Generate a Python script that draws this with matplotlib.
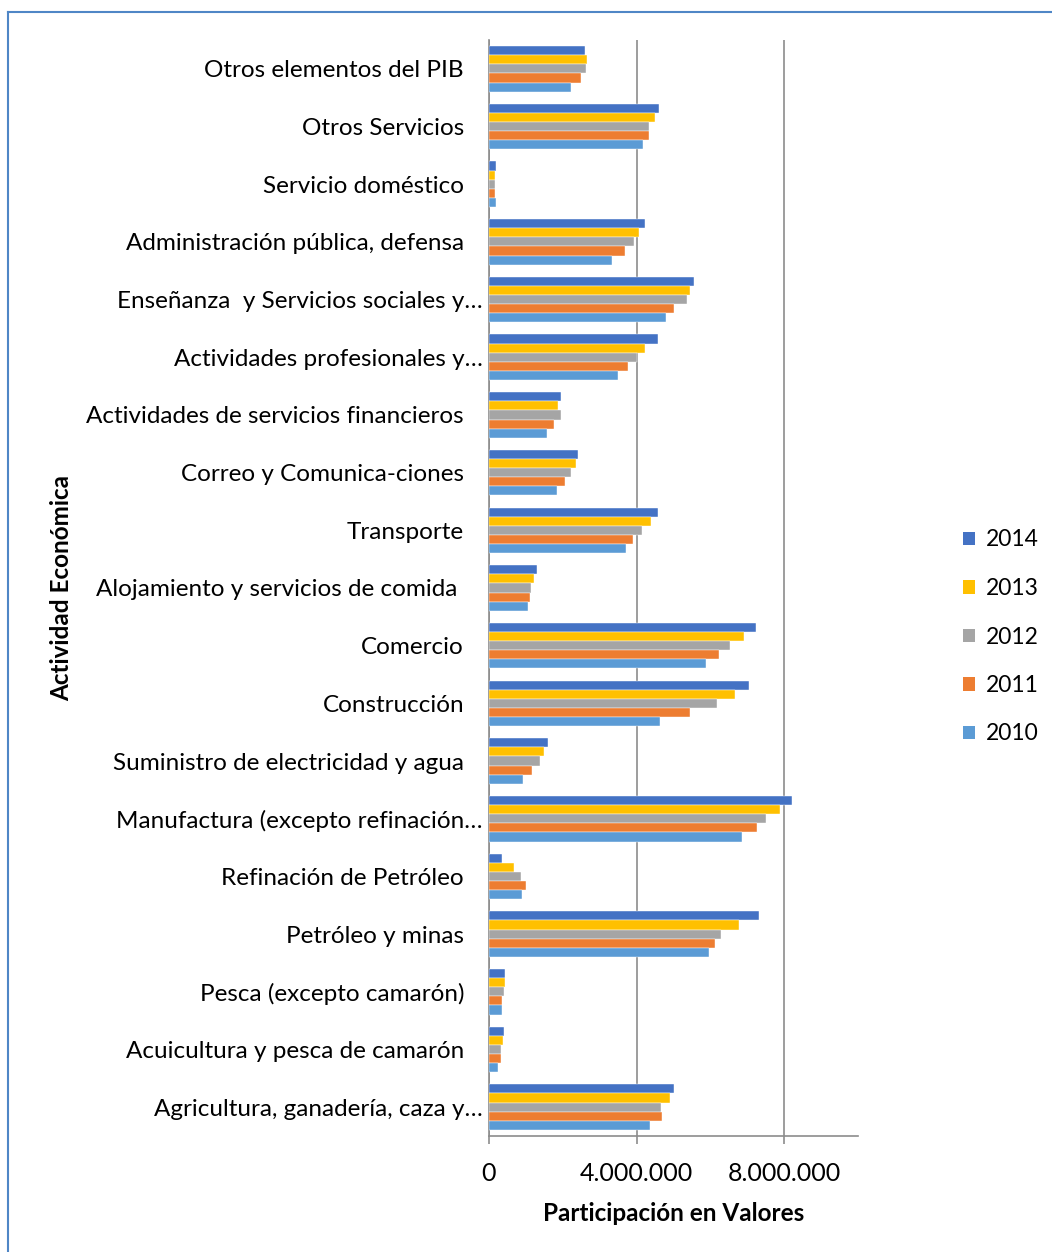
import matplotlib
matplotlib.use("Agg")
import matplotlib.pyplot as plt
import matplotlib.transforms as mtransforms
from matplotlib.lines import Line2D
from matplotlib.patches import Patch
import numpy as np

plt.rcParams['font.family'] = ['Lato', 'DejaVu Sans']

# Categories listed bottom to top (as drawn on the y axis)
categories = [
    "Agricultura, ganadería, caza y…",
    "Acuicultura y pesca de camarón",
    "Pesca (excepto camarón)",
    "Petróleo y minas",
    "Refinación de Petróleo",
    "Manufactura (excepto refinación…",
    "Suministro de electricidad y agua",
    "Construcción",
    "Comercio",
    "Alojamiento y servicios de comida ",
    "Transporte",
    "Correo y Comunica-ciones",
    "Actividades de servicios financieros",
    "Actividades profesionales y…",
    "Enseñanza  y Servicios sociales y…",
    "Administración pública, defensa",
    "Servicio doméstico",
    "Otros Servicios",
    "Otros elementos del PIB",
]

years = ["2014", "2013", "2012", "2011", "2010"]

v2014 = [5010000, 420000, 430000, 7320000, 340000, 8200000, 1610000, 7050000, 7230000, 1300000,
         4590000, 2410000, 1940000, 4570000, 5550000, 4240000, 180000, 4620000, 2590000]
v2013 = [4900000, 370000, 430000, 6770000, 670000, 7880000, 1480000, 6680000, 6910000, 1210000,
         4390000, 2370000, 1860000, 4230000, 5440000, 4070000, 170000, 4500000, 2660000]
v2012 = [4670000, 330000, 410000, 6280000, 880000, 7500000, 1380000, 6180000, 6520000, 1140000,
         4140000, 2230000, 1960000, 4020000, 5360000, 3930000, 170000, 4340000, 2620000]
v2011 = [4680000, 320000, 360000, 6130000, 990000, 7260000, 1170000, 5460000, 6230000, 1100000,
         3910000, 2050000, 1770000, 3770000, 5010000, 3680000, 170000, 4330000, 2490000]
v2010 = [4360000, 250000, 340000, 5950000, 900000, 6860000, 920000, 4640000, 5880000, 1050000,
         3710000, 1840000, 1570000, 3500000, 4790000, 3330000, 180000, 4160000, 2220000]

series = [v2014, v2013, v2012, v2011, v2010]
colors = ["#4472C4", "#FFC000", "#A5A5A5", "#ED7D31", "#5B9BD5"]

fig = plt.figure(figsize=(10.52, 12.52), dpi=100)
ax = fig.add_axes([489/1052, 1 - 1136/1252, (858-489)/1052, (1136-40)/1252])

n = len(series)
bh = 0.158
y = np.arange(len(categories))
for i, (vals, col, yr) in enumerate(zip(series, colors, years)):
    offset = (n - 1) / 2 * bh - i * bh
    ax.barh(y + offset, vals, height=bh, color=col, label=yr, zorder=3,
            edgecolor='white', linewidth=0.3)

ax.set_xlim(0, 10000000)
ax.set_ylim(-0.5, len(categories) - 0.5)
ax.set_xticks([0, 4000000, 8000000])
ax.set_xticklabels(["0", "4.000.000", "8.000.000"])
ax.set_yticks(y)
ax.set_yticklabels(categories)

ax.grid(axis='x', color='#8c8c8c', linewidth=1.2, zorder=0)
for s in ['top', 'right']:
    ax.spines[s].set_visible(False)
ax.spines['left'].set_color('#8c8c8c')
ax.spines['bottom'].set_color('#8c8c8c')
ax.spines['left'].set_linewidth(1.2)
ax.spines['bottom'].set_linewidth(1.2)
ax.tick_params(axis='y', length=0, pad=18, labelsize=17.5)
ax.tick_params(axis='x', length=6, width=1.2, color='#8c8c8c', pad=13, labelsize=18)

for lab in ax.get_yticklabels():
    if lab.get_text().endswith("…"):
        lab.set_transform(lab.get_transform() + mtransforms.ScaledTranslation(19/100, 0, fig.dpi_scale_trans))

ax.set_xlabel("Participación en Valores", fontsize=17.5, fontweight='bold', labelpad=12)
fig.text(62/1052, 1 - 588/1252, "Actividad Económica", rotation=90, fontsize=17.5,
         fontweight='bold', ha='center', va='center')

handles = [Patch(facecolor=c, edgecolor='none') for c in colors]
leg = fig.legend(handles, years, loc='center left', bbox_to_anchor=(963/1052, 1 - 637/1252),
                 frameon=False, fontsize=16.5, handlelength=0.53, handleheight=0.53,
                 labelspacing=1.2, handletextpad=0.45, borderaxespad=0, borderpad=0)

# outer frame lines (top and left)
fig.add_artist(Line2D([8/1052, 1], [1 - 11.5/1252, 1 - 11.5/1252], color='#4F86C6', linewidth=1.5,
                      transform=fig.transFigure))
fig.add_artist(Line2D([8/1052, 8/1052], [0, 1 - 11.5/1252], color='#4F86C6', linewidth=1.5,
                      transform=fig.transFigure))

fig.savefig("out.png", dpi=100)
